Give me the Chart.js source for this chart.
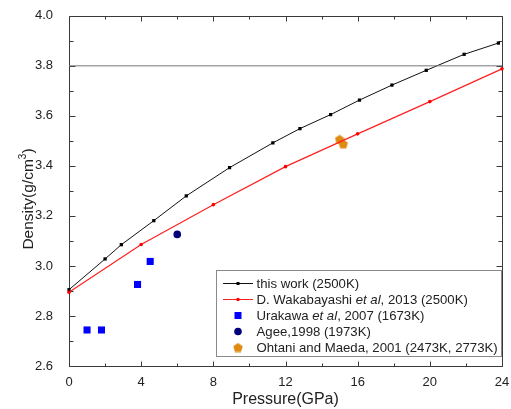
<!DOCTYPE html>
<html><head><meta charset="utf-8">
<script src="https://cdn.jsdelivr.net/npm/chart.js@4/dist/chart.umd.min.js"></script>
<style>html,body{margin:0;padding:0;background:#fff}</style>
</head><body>
<canvas id="c" width="511" height="409"></canvas>
<script>
// ---- data ----
const thisWorkP = [0, 2.0, 2.9, 4.7, 6.5, 8.9, 11.3, 12.8, 14.5, 16.1, 17.9, 19.8, 21.9, 23.8];
const thisWorkD = [2.905, 3.028, 3.085, 3.181, 3.280, 3.393, 3.492, 3.549, 3.605, 3.663, 3.723, 3.782, 3.846, 3.891];
const wakaP = [0, 4, 8, 12, 16, 20, 24];
const wakaD = [2.895, 3.086, 3.245, 3.397, 3.528, 3.657, 3.788];
const urakawaP = [1.0, 1.8, 3.8, 4.5];
const urakawaD = [2.744, 2.744, 2.926, 3.018];
const ageeP = [6.0];
const ageeD = [3.126];
const ohtaniP = [15.0, 15.2];
const ohtaniD = [3.506, 3.488];
const refLineP = [0, 24];
const refLineD = [3.8, 3.8];
const xMajorTicks = [0, 4, 8, 12, 16, 20, 24];
const xMinorTicks = [2, 6, 10, 14, 18, 22];
const yMajorTicks = [2.6, 2.8, 3.0, 3.2, 3.4, 3.6, 3.8, 4.0];
const yMinorTicks = [2.7, 2.9, 3.1, 3.3, 3.5, 3.7, 3.9];
const xTitle = "Pressure(GPa)";
const yTitleParts = ["Density(g/cm", "3", ")"];
const legendEntries = [
  [["this work (2500K)", false]],
  [["D. Wakabayashi ", false], ["et al", true], [", 2013 (2500K)", false]],
  [["Urakawa ", false], ["et al", true], [", 2007 (1673K)", false]],
  [["Agee,1998 (1973K)", false]],
  [["Ohtani and Maeda, 2001 (2473K, 2773K)", false]]
];

const FONT = "'Liberation Sans', Arial, sans-serif";
const toXY = (xs, ys) => xs.map((x, i) => ({x: x, y: ys[i]}));

function pentagon(size, color) {
  const c = document.createElement('canvas');
  c.width = size; c.height = size;
  const g = c.getContext('2d');
  const r = size / 2, cx = size / 2, cy = size / 2 + 0.4;
  g.beginPath();
  for (let i = 0; i < 5; i++) {
    const a = -Math.PI / 2 + i * 2 * Math.PI / 5;
    const px = cx + r * Math.cos(a), py = cy + r * Math.sin(a);
    if (i === 0) g.moveTo(px, py); else g.lineTo(px, py);
  }
  g.closePath();
  g.fillStyle = color; g.fill();
  return c;
}
const ORANGE = '#E08A12';
const pent = pentagon(10, ORANGE);

const frameAndTicks = {
  id: 'frameAndTicks',
  beforeDatasetsDraw(chart) {
    const {ctx, chartArea: a, scales: {x, y}} = chart;
    ctx.save();
    ctx.strokeStyle = '#3a3a3a';
    ctx.lineWidth = 1;
    ctx.beginPath();
    const L = Math.round(a.left) + 0.5, R = Math.round(a.right) + 0.5;
    const T = Math.round(a.top) + 0.5, B = Math.round(a.bottom) + 0.5;
    ctx.rect(L, T, R - L, B - T);
    for (const [vals, len] of [[xMajorTicks, 5], [xMinorTicks, 3]]) {
      for (const v of vals) {
        const px = Math.round(x.getPixelForValue(v)) + 0.5;
        ctx.moveTo(px, B); ctx.lineTo(px, B - len);
        ctx.moveTo(px, T); ctx.lineTo(px, T + len);
      }
    }
    for (const [vals, len] of [[yMajorTicks, 6], [yMinorTicks, 4]]) {
      for (const v of vals) {
        const py = Math.round(y.getPixelForValue(v)) + 0.5;
        ctx.moveTo(L, py); ctx.lineTo(L + len, py);
        ctx.moveTo(R, py); ctx.lineTo(R - len, py);
      }
    }
    ctx.stroke();
    ctx.restore();
  },
  afterDraw(chart) {
    const {ctx, chartArea: a} = chart;
    ctx.save();
    ctx.fillStyle = '#222';
    // x title
    ctx.font = '16px ' + FONT;
    ctx.textAlign = 'center';
    ctx.textBaseline = 'alphabetic';
    ctx.fillText(xTitle, (a.left + a.right) / 2, 404);
    // y title (rotated)
    ctx.translate(33, 199);
    ctx.rotate(-Math.PI / 2);
    ctx.font = '15.5px ' + FONT;
    const w0 = ctx.measureText(yTitleParts[0]).width;
    ctx.font = '10px ' + FONT;
    const w1 = ctx.measureText(yTitleParts[1]).width;
    ctx.font = '15.5px ' + FONT;
    const w2 = ctx.measureText(yTitleParts[2]).width;
    let sx = -(w0 + w1 + w2) / 2;
    ctx.textAlign = 'left';
    ctx.fillText(yTitleParts[0], sx, 0);
    ctx.font = '10px ' + FONT;
    ctx.fillText(yTitleParts[1], sx + w0, -7);
    ctx.font = '15.5px ' + FONT;
    ctx.fillText(yTitleParts[2], sx + w0 + w1, 0);
    ctx.restore();

    // legend
    ctx.save();
    const bx = 216.5, by = 270.5, bw = 285, bh = 86;
    ctx.fillStyle = '#fff';
    ctx.fillRect(bx, by, bw, bh);
    ctx.strokeStyle = '#8a8a8a';
    ctx.lineWidth = 1;
    ctx.strokeRect(bx, by, bw, bh);
    const rows = [283.5, 299.5, 315.5, 331.5, 347.5];
    const sym = 238, tx = 256.5;
    ctx.strokeStyle = '#111'; ctx.beginPath(); ctx.moveTo(223, rows[0]); ctx.lineTo(253, rows[0]); ctx.stroke();
    ctx.fillStyle = '#000'; ctx.fillRect(sym - 1.5, rows[0] - 1.5, 3, 3);
    ctx.strokeStyle = '#ff2020'; ctx.beginPath(); ctx.moveTo(223, rows[1]); ctx.lineTo(253, rows[1]); ctx.stroke();
    ctx.fillStyle = '#ff0000'; ctx.beginPath(); ctx.arc(sym, rows[1], 1.8, 0, Math.PI * 2); ctx.fill();
    ctx.fillStyle = '#0000ff'; ctx.fillRect(sym - 3.5, rows[2] - 3.5, 7, 7);
    ctx.fillStyle = '#00007a'; ctx.beginPath(); ctx.arc(sym, rows[3], 3.8, 0, Math.PI * 2); ctx.fill();
    ctx.drawImage(pent, sym - 5, rows[4] - 5);
    ctx.fillStyle = '#222';
    ctx.textBaseline = 'middle';
    ctx.textAlign = 'left';
    legendEntries.forEach((segs, i) => {
      let cx = tx;
      for (const [t, it] of segs) {
        ctx.font = (it ? 'italic ' : '') + '13.2px ' + FONT;
        ctx.fillText(t, cx, rows[i] + 0.5);
        cx += ctx.measureText(t).width;
      }
    });
    ctx.restore();
  }
};

new Chart(document.getElementById('c'), {
  type: 'scatter',
  data: {
    datasets: [
      {data: toXY(refLineP, refLineD), showLine: true, borderColor: '#777', borderWidth: 1, pointRadius: 0},
      {data: toXY(wakaP, wakaD), showLine: true, borderColor: '#ff2020', borderWidth: 1.2,
       pointStyle: 'circle', pointRadius: 1.8, pointBackgroundColor: '#ff0000', pointBorderWidth: 0},
      {data: toXY(thisWorkP, thisWorkD), showLine: true, borderColor: '#111', borderWidth: 1,
       pointStyle: 'rect', pointRadius: 2.3, pointBackgroundColor: '#000', pointBorderWidth: 0},
      {data: toXY(urakawaP, urakawaD), pointStyle: 'rect', pointRadius: 5, pointBackgroundColor: '#0000ff', pointBorderWidth: 0},
      {data: toXY(ageeP, ageeD), pointStyle: 'circle', pointRadius: 3.8, pointBackgroundColor: '#00007a', pointBorderWidth: 0},
      {data: toXY(ohtaniP, ohtaniD), pointStyle: pent, pointRadius: 5}
    ]
  },
  options: {
    responsive: false,
    animation: false,
    clip: false,
    layout: {padding: {top: 13, right: 9, left: 0, bottom: 0}},
    plugins: {legend: {display: false}, tooltip: {enabled: false}},
    scales: {
      x: {
        type: 'linear', min: 0, max: 24,
        afterBuildTicks: s => { s.ticks = xMajorTicks.map(v => ({value: v})); },
        afterFit: s => { s.height = 43; },
        grid: {display: false}, border: {display: false},
        ticks: {font: {size: 13, family: FONT}, color: '#222', padding: 1, maxRotation: 0}
      },
      y: {
        type: 'linear', min: 2.6, max: 4.0,
        afterBuildTicks: s => { s.ticks = yMajorTicks.map(v => ({value: v})); },
        afterFit: s => { s.width = 69; },
        grid: {display: false}, border: {display: false},
        ticks: {font: {size: 13, family: FONT}, color: '#222', padding: 8,
                callback: v => Number(v).toFixed(1)}
      }
    }
  },
  plugins: [frameAndTicks]
});
</script>
</body></html>
